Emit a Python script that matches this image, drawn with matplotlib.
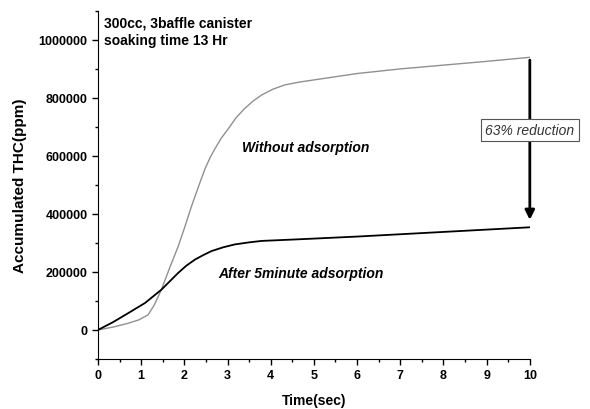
import numpy as np
import matplotlib.pyplot as plt
from matplotlib.ticker import MultipleLocator, FuncFormatter

plt.rcParams['font.family'] = ['Liberation Sans', 'DejaVu Sans']

t_without = [0, 0.35, 0.7, 0.95, 1.16, 1.3, 1.47, 1.65, 1.86, 2.0, 2.17, 2.33, 2.48, 2.6, 2.71, 2.85, 3.02,
             3.2, 3.4, 3.6, 3.79, 4.05, 4.33, 4.68, 5, 6, 7, 8, 9, 10]
without_ads = [0, 10000, 23000, 35000, 52000, 85000, 139000, 210000, 289000, 350000, 428000, 495000, 556000,
               595000, 625000, 660000, 694000, 732000, 764000, 790000, 810000, 830000, 845000, 855000,
               862000, 884000, 900000, 913000, 926000, 940000]
t_after = [0, 0.35, 0.7, 1.09, 1.47, 1.86, 2.05, 2.25, 2.45, 2.63, 2.9, 3.17, 3.5, 3.79, 4.56, 5, 6, 7, 8, 9, 10]
after_ads = [0, 27000, 58000, 93000, 139000, 197000, 222000, 243000, 259000, 272000, 285000, 295000, 302000,
             307000, 312000, 315000, 322000, 330000, 338000, 346000, 354000]

fig = plt.figure(figsize=(5.9, 4.1), dpi=100)
ax = fig.add_axes([0.166, 0.122, 0.732, 0.849])

ax.plot(t_without, without_ads, color='#909090', lw=1.0)
ax.plot(t_after, after_ads, color='black', lw=1.3)

ax.set_xlim(0, 10)
ax.set_ylim(-100000, 1100000)
ax.spines['top'].set_visible(False)
ax.spines['right'].set_visible(False)
ax.xaxis.set_major_locator(MultipleLocator(1))
ax.xaxis.set_minor_locator(MultipleLocator(0.5))
ax.yaxis.set_major_locator(MultipleLocator(200000))
ax.yaxis.set_minor_locator(MultipleLocator(100000))
ax.set_yticks([0, 200000, 400000, 600000, 800000, 1000000])
ax.yaxis.set_major_formatter(FuncFormatter(lambda v, p: f'{int(v)}'))
ax.tick_params(which='major', direction='out', length=4, width=1, labelsize=9)
ax.tick_params(which='minor', direction='out', length=2.5, width=1)
for lab in ax.get_xticklabels() + ax.get_yticklabels():
    lab.set_fontweight('bold')

ax.set_xlabel('Time(sec)', fontsize=10, fontweight='bold', labelpad=8)
ax.set_ylabel('Accumulated THC(ppm)', fontsize=11, fontweight='bold', labelpad=8)

ax.text(0.15, 1085000, '300cc, 3baffle canister\nsoaking time 13 Hr', fontsize=10,
        fontweight='bold', va='top', ha='left', linespacing=1.3)
ax.text(4.8, 630000, 'Without adsorption', fontsize=10, fontweight='bold',
        style='italic', ha='center', va='center')
ax.text(4.7, 195000, 'After 5minute adsorption', fontsize=10, fontweight='bold',
        style='italic', ha='center', va='center')

ax.annotate('', xy=(10, 370000), xytext=(10, 940000),
            arrowprops=dict(arrowstyle='-|>', color='black', lw=2, mutation_scale=14),
            annotation_clip=False)
ax.text(10, 690000, '63% reduction', fontsize=10, style='italic', color='#333333',
        ha='center', va='center', clip_on=False,
        bbox=dict(boxstyle='square,pad=0.3', facecolor='white', edgecolor='#555555', lw=0.8))

fig.savefig('out.png', dpi=100)
